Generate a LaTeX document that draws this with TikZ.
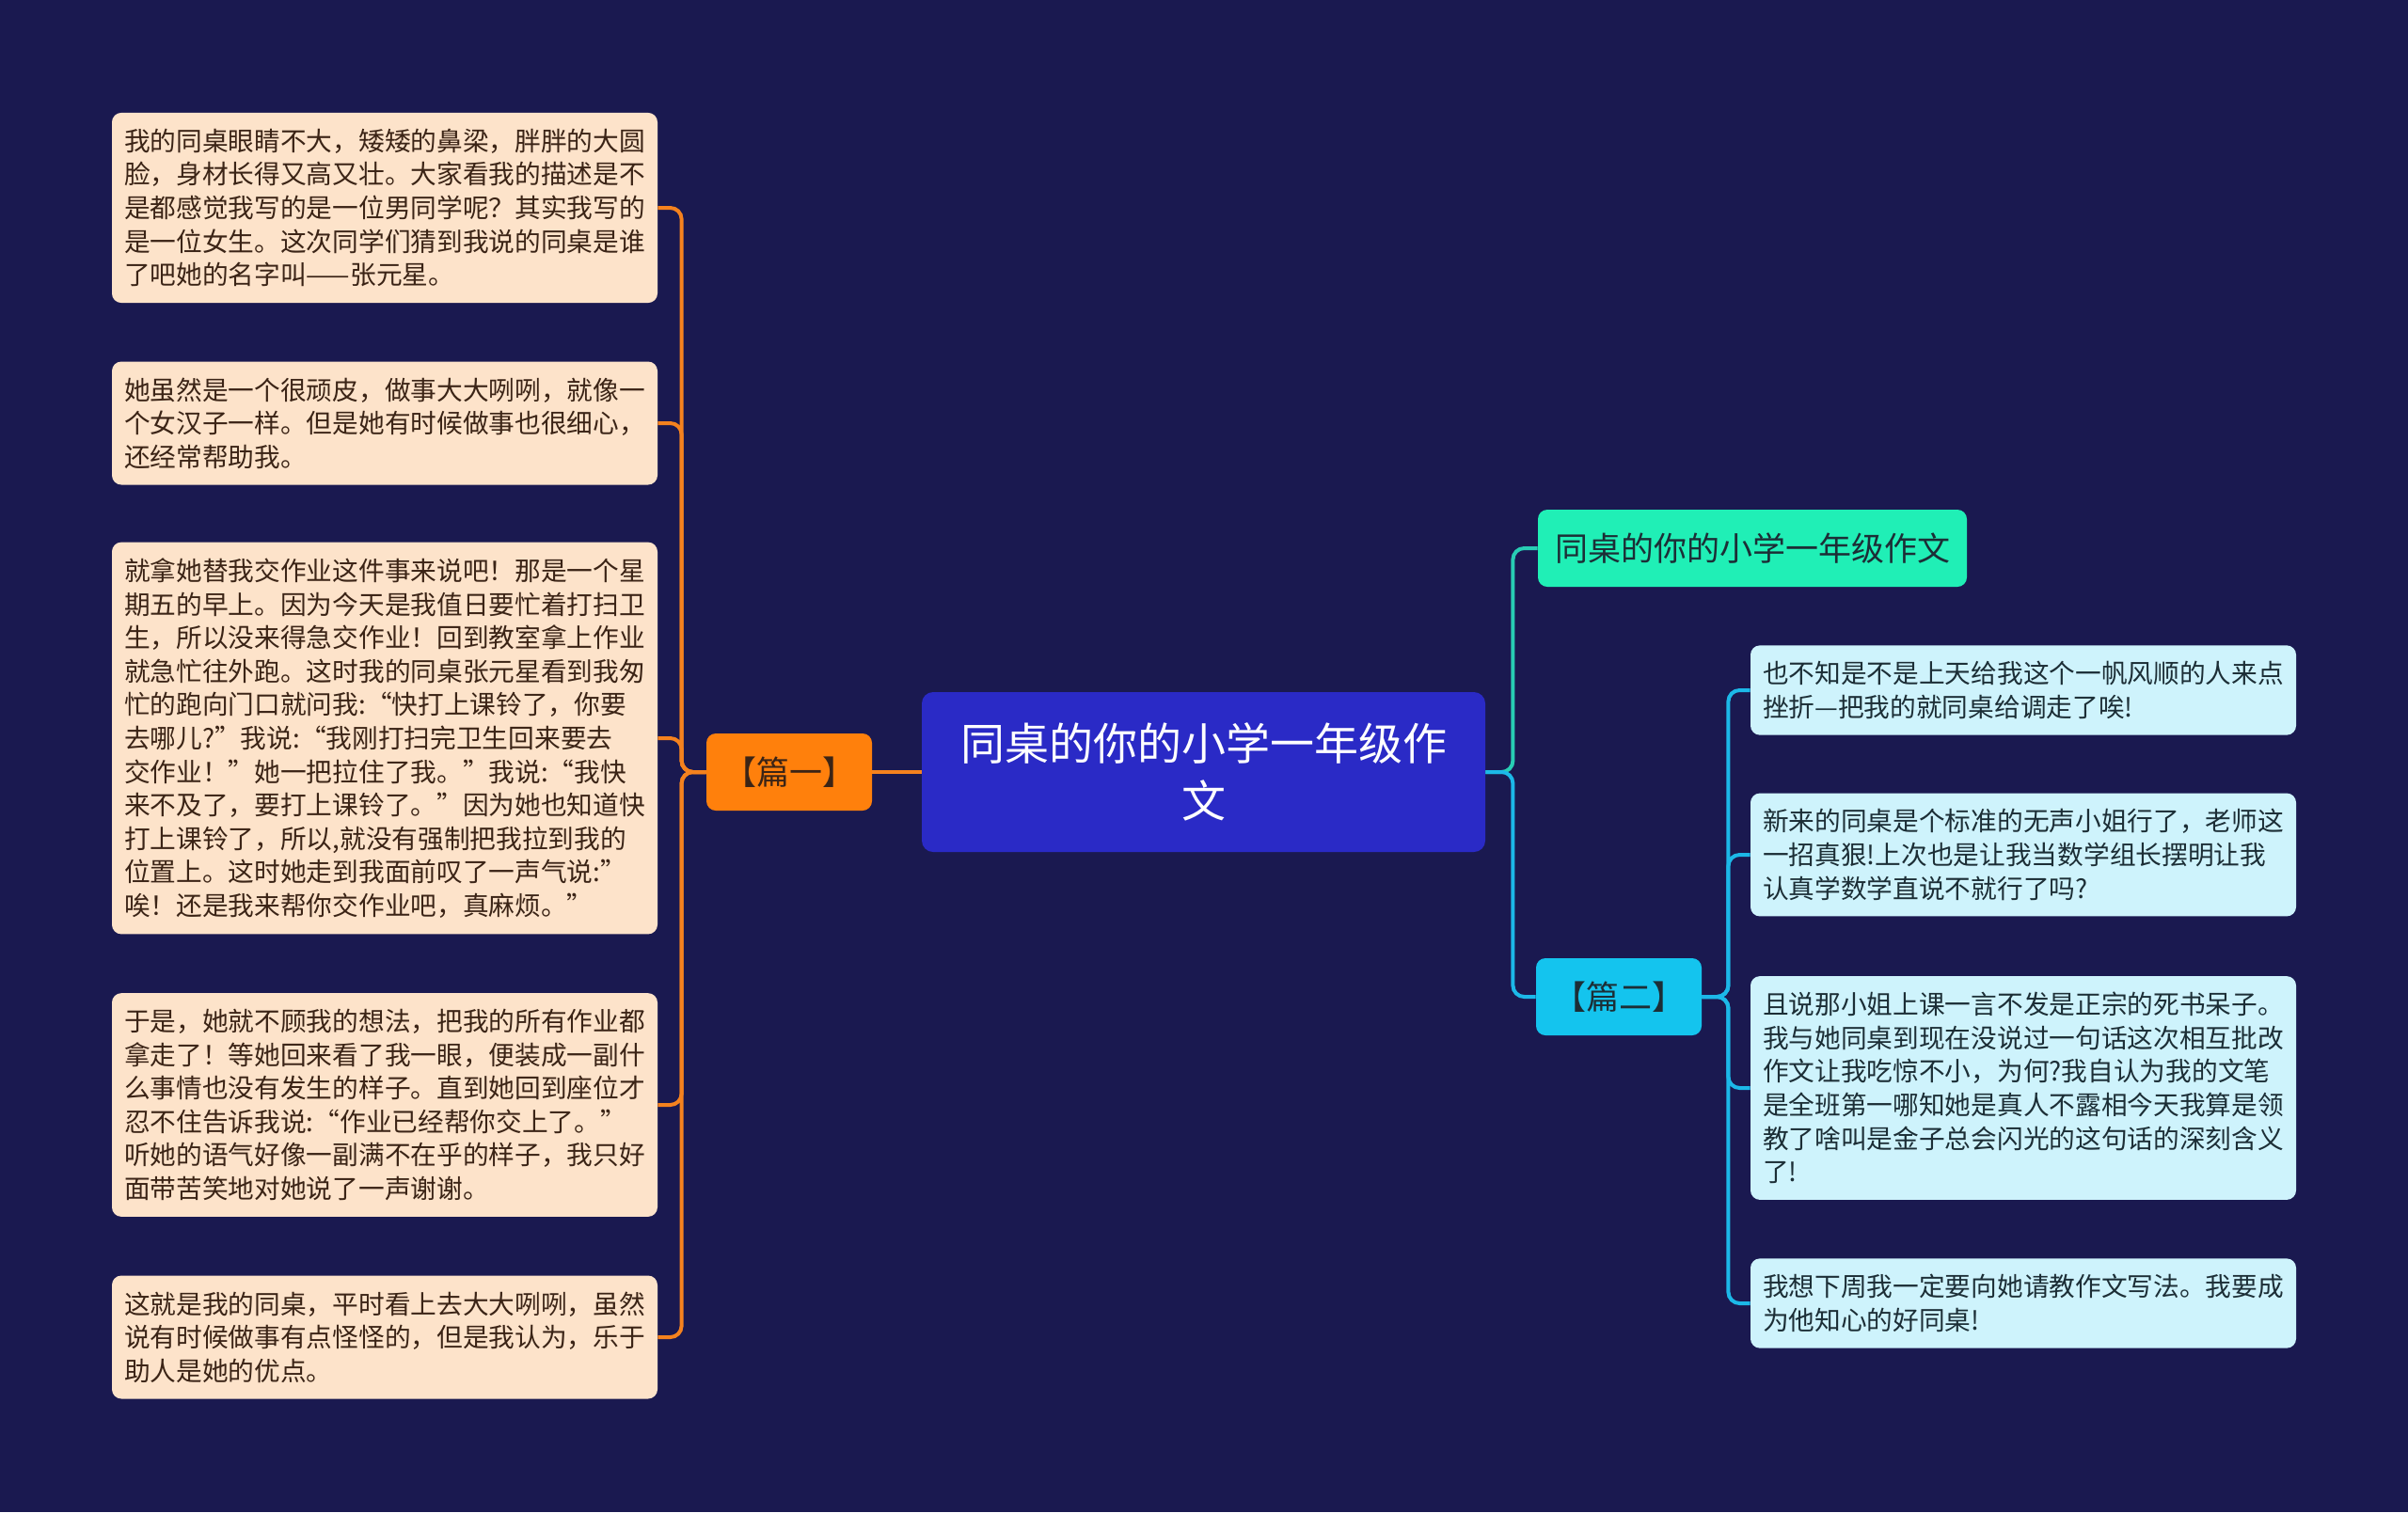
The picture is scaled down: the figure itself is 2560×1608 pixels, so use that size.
\documentclass[tikz,border=0pt]{standalone}
\usepackage{fontspec}
\setmainfont{Noto Sans CJK SC}
\usepackage{tikz}
\usetikzlibrary{positioning}
\usepackage{xcolor}
\definecolor{fondo}{HTML}{1A1950}
\definecolor{azulraiz}{HTML}{2A2AC6}
\definecolor{naranja}{HTML}{FF800C}
\definecolor{lineanar}{HTML}{F5821E}
\definecolor{melocoton}{HTML}{FDE3CA}
\definecolor{marron}{HTML}{3B2416}
\definecolor{menta}{HTML}{20EFB6}
\definecolor{lineamenta}{HTML}{28CDB4}
\definecolor{cian}{HTML}{14C4EE}
\definecolor{lineacian}{HTML}{1CB8E8}
\definecolor{celeste}{HTML}{CEF3FC}
\definecolor{pizarra}{HTML}{1C2E36}

\begin{document}
\begin{tikzpicture}[x=0.5pt,y=-0.5pt,
		caja/.style={rounded corners=5pt,inner xsep=6.5pt,inner ysep=8.5pt},
		hoja/.style={caja,text width=277pt,align=left,font=\fontsize{13.85}{17.8}\selectfont},
		hojaL/.style={hoja,fill=melocoton,text=marron},
		hojaR/.style={hoja,fill=celeste,text=pizarra},
		rama/.style={rounded corners=5pt,minimum height=41pt,inner xsep=9pt,font=\fontsize{17.5}{20}\selectfont},
		conector/.style={line width=2pt,rounded corners=6pt}]
			% fondo
			\fill[fondo](0,0)rectangle(2560,1608);
			\useasboundingbox(0,0)rectangle(2560,1608);
			% tema central
			\node[rounded corners=6pt,fill=azulraiz,text=white,minimum width=299.5pt,minimum height=85pt,
			align=center,font=\fontsize{23.5}{30.5}\selectfont](raiz)at(1279.5,821)
			{同桌的你的小学一年级作\\文};
			% ramas
			\node[rama,fill=naranja,text=marron](p1)at(839,821){【篇一】};
			\node[rama,fill=menta,text=pizarra](titulo)at(1863,583){同桌的你的小学一年级作文};
			\node[rama,fill=cian,text=pizarra](p2)at(1721,1060){【篇二】};
			% hojas izquierda
			\node[hojaL](l1)at(409,221){我的同桌眼睛不大，矮矮的鼻梁，胖胖的大圆\\脸，身材长得又高又壮。大家看我的描述是不\\是都感觉我写的是一位男同学呢？其实我写的\\是一位女生。这次同学们猜到我说的同桌是谁\\了吧她的名字叫——张元星。};
			\node[hojaL](l2)at(409,450){她虽然是一个很顽皮，做事大大咧咧，就像一\\个女汉子一样。但是她有时候做事也很细心，\\还经常帮助我。};
			\node[hojaL](l3)at(409,785){就拿她替我交作业这件事来说吧！那是一个星\\期五的早上。因为今天是我值日要忙着打扫卫\\生，所以没来得急交作业！回到教室拿上作业\\就急忙往外跑。这时我的同桌张元星看到我匆\\忙的跑向门口就问我:“快打上课铃了，你要\\去哪儿?”我说:“我刚打扫完卫生回来要去\\交作业！”她一把拉住了我。”我说:“我快\\来不及了，要打上课铃了。”因为她也知道快\\打上课铃了，所以,就没有强制把我拉到我的\\位置上。这时她走到我面前叹了一声气说:”\\唉！还是我来帮你交作业吧，真麻烦。”};
			\node[hojaL](l4)at(409,1175){于是，她就不顾我的想法，把我的所有作业都\\拿走了！等她回来看了我一眼，便装成一副什\\么事情也没有发生的样子。直到她回到座位才\\忍不住告诉我说:“作业已经帮你交上了。”\\听她的语气好像一副满不在乎的样子，我只好\\面带苦笑地对她说了一声谢谢。};
			\node[hojaL](l5)at(409,1422){这就是我的同桌，平时看上去大大咧咧，虽然\\说有时候做事有点怪怪的，但是我认为，乐于\\助人是她的优点。};
			% hojas derecha
			\node[hojaR](r1)at(2151,734){也不知是不是上天给我这个一帆风顺的人来点\\挫折—把我的就同桌给调走了唉!};
			\node[hojaR](r2)at(2151,909){新来的同桌是个标准的无声小姐行了，老师这\\一招真狠!上次也是让我当数学组长摆明让我\\认真学数学直说不就行了吗?};
			\node[hojaR](r3)at(2151,1157){且说那小姐上课一言不发是正宗的死书呆子。\\我与她同桌到现在没说过一句话这次相互批改\\作文让我吃惊不小，为何?我自认为我的文笔\\是全班第一哪知她是真人不露相今天我算是领\\教了啥叫是金子总会闪光的这句话的深刻含义\\了!};
			\node[hojaR](r4)at(2151,1386){我想下周我一定要向她请教作文写法。我要成\\为他知心的好同桌!};
			% conectores
			\draw[conector,lineanar](raiz.west)--(p1.east);
			\foreach \n in {1,...,5}
			\draw[conector,lineanar](p1.west)--++(-26,0)|-(l\n.east);
			\draw[conector,lineamenta](raiz.east)--++(29,0)|-(titulo.west);
			\draw[conector,lineacian](raiz.east)--++(29,0)|-(p2.west);
			\foreach \n in {1,...,4}
			\draw[conector,lineacian](p2.east)--++(28,0)|-(r\n.west);
		\end{tikzpicture}
\end{document}
